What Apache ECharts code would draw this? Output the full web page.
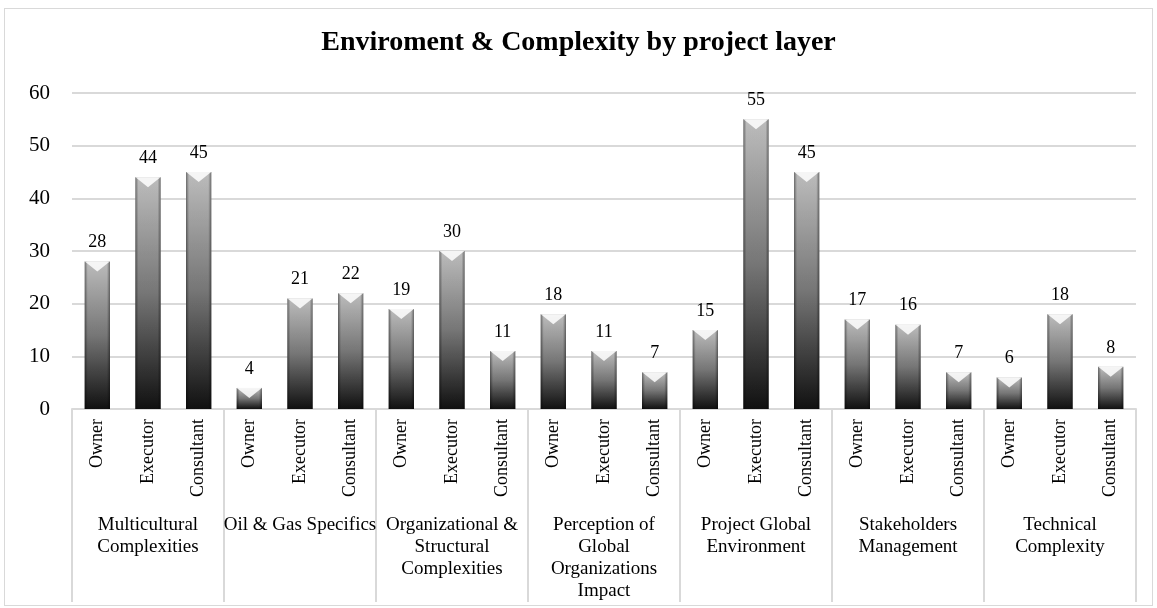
<!DOCTYPE html>
<html>
<head>
<meta charset="utf-8">
<script src="https://cdn.jsdelivr.net/npm/echarts@6/dist/echarts.min.js"></script>
<style>
  html, body { margin: 0; padding: 0; background: #fff; }
  #canvasContainer { width: 1157px; height: 608px; }
  .frame { position: absolute; left: 4px; top: 8px; width: 1147px; height: 596px; border: 1px solid #d9d9d9; pointer-events: none; }
</style>
</head>
<body>
<div id="canvasContainer"></div>
<div class="frame"></div>
<script>
var groups = ['Multicultural\nComplexities', 'Oil & Gas Specifics', 'Organizational &\nStructural\nComplexities',
              'Perception of\nGlobal\nOrganizations\nImpact', 'Project Global\nEnvironment',
              'Stakeholders\nManagement', 'Technical\nComplexity'];
var roles = ['Owner', 'Executor', 'Consultant'];
var owner = [28, 4, 19, 18, 15, 17, 6];
var executor = [44, 21, 30, 11, 55, 16, 18];
var consultant = [45, 22, 11, 7, 45, 7, 8];
var yTicks = [0, 10, 20, 30, 40, 50, 60];

var chart = echarts.init(document.getElementById("canvasContainer"));
var font = '"Liberation Serif", "Times New Roman", serif';

// flatten group x role into one category list
var cats = [];
var vals = [];
for (var g = 0; g < groups.length; g++) {
    var byRole = [owner[g], executor[g], consultant[g]];
    for (var r = 0; r < roles.length; r++) {
        cats.push(roles[r]);
        vals.push(byRole[r]);
    }
}

var option = {
    backgroundColor: '#fff',
    title: {
        text: 'Enviroment & Complexity by project layer',
        left: 'center',
        top: 24,
        textStyle: { fontFamily: font, fontWeight: 'bold', fontSize: 28, color: '#000' }
    },
    grid: { left: 72, right: 21, top: 93, bottom: 199 },
    xAxis: [
        {
            type: 'category',
            data: cats,
            axisLine: { lineStyle: { color: '#d9d9d9', width: 2 } },
            axisTick: { show: false },
            axisLabel: { rotate: 90, interval: 0, margin: 10, fontFamily: font, fontSize: 18, color: '#000' }
        },
        {
            type: 'category',
            data: groups,
            position: 'bottom',
            axisLine: { show: false },
            axisTick: { show: true, length: 193, lineStyle: { color: '#d9d9d9', width: 2 } },
            axisLabel: { interval: 0, margin: 105, fontFamily: font, fontSize: 19, lineHeight: 22, color: '#000' }
        }
    ],
    yAxis: {
        type: 'value',
        min: yTicks[0],
        max: yTicks[yTicks.length - 1],
        interval: 10,
        axisLine: { show: false },
        axisTick: { show: false },
        splitLine: { lineStyle: { color: '#d9d9d9', width: 2 } },
        axisLabel: { margin: 22, fontFamily: font, fontSize: 21, color: '#000' }
    },
    series: [
        {
            type: 'bar',
            xAxisIndex: 0,
            data: vals,
            barWidth: '50%',
            itemStyle: {
                color: new echarts.graphic.LinearGradient(0, 0, 0, 1, [
                    { offset: 0, color: '#c6c6c6' },
                    { offset: 0.5, color: '#7c7c7c' },
                    { offset: 1, color: '#111111' }
                ])
            }
        },
        {
            // darker bevel edges on the sides
            type: 'bar',
            xAxisIndex: 0,
            data: vals,
            barWidth: '50%',
            barGap: '-100%',
            itemStyle: {
                color: new echarts.graphic.LinearGradient(0, 0, 1, 0, [
                    { offset: 0, color: 'rgba(0,0,0,0.45)' },
                    { offset: 0.12, color: 'rgba(0,0,0,0.05)' },
                    { offset: 0.88, color: 'rgba(0,0,0,0.05)' },
                    { offset: 1, color: 'rgba(0,0,0,0.45)' }
                ])
            },
            label: {
                show: true,
                position: 'top',
                distance: 10,
                fontFamily: font,
                fontSize: 18,
                color: '#000'
            }
        },
        {
            // white chevron at the top of each bar
            type: 'pictorialBar',
            xAxisIndex: 0,
            data: vals,
            barGap: '-100%',
            symbol: 'path://M0,0 L10,0 L5,4 Z',
            symbolSize: [25, 10],
            symbolPosition: 'end',
            z: 5,
            itemStyle: { color: 'rgba(255,255,255,0.85)' }
        }
    ]
};
chart.setOption(option);
</script>
</body>
</html>
